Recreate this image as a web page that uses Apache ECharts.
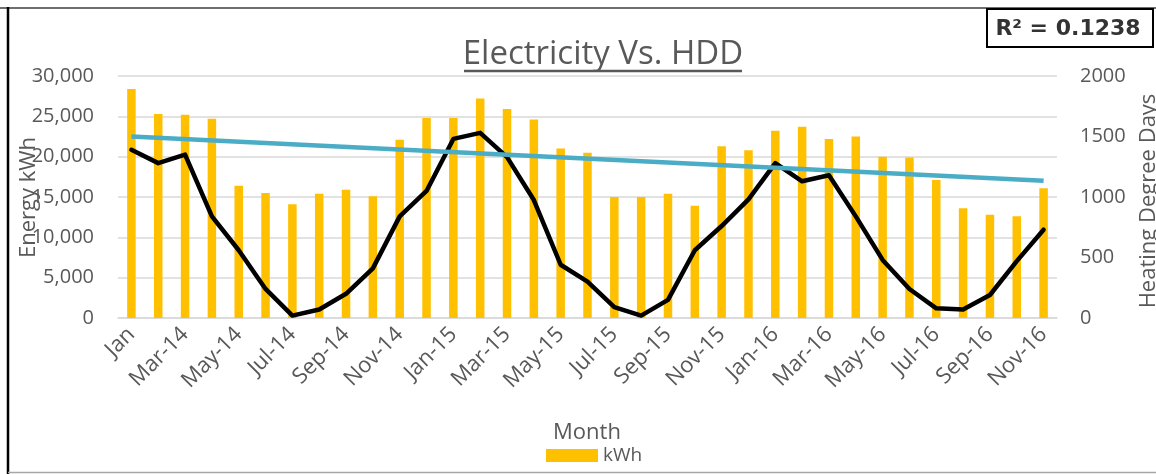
<!DOCTYPE html>
<html>
<head>
<meta charset="utf-8">
<script src="https://cdn.jsdelivr.net/npm/echarts@6/dist/echarts.min.js"></script>
<style>
html,body{margin:0;padding:0;background:#fff;}
#c{width:1156px;height:474px;}
</style>
</head>
<body>
<div id="c"></div>
<script>
var categories = ['Jan','Feb-14','Mar-14','Apr-14','May-14','Jun-14','Jul-14','Aug-14','Sep-14','Oct-14','Nov-14','Dec-14',
  'Jan-15','Feb-15','Mar-15','Apr-15','May-15','Jun-15','Jul-15','Aug-15','Sep-15','Oct-15','Nov-15','Dec-15',
  'Jan-16','Feb-16','Mar-16','Apr-16','May-16','Jun-16','Jul-16','Aug-16','Sep-16','Oct-16','Nov-16'];
var kwh = [28400,25300,25200,24700,16400,15500,14100,15400,15900,15100,22100,24800,
  24800,27200,25900,24600,21000,20500,15000,15000,15400,13900,21300,20800,
  23200,23700,22200,22500,20000,19900,17100,13600,12800,12600,16100];
var hdd = [1390,1280,1350,840,560,240,20,70,200,410,840,1050,
  1480,1530,1330,975,440,300,90,20,150,560,760,980,
  1280,1130,1180,840,480,240,80,70,190,470,730];
var trendEnds = [22500, 17000];
var leftTicks = [0, 30000, 5000];
var rightTicks = [0, 2000, 500];
var titleText = 'Electricity Vs. HDD';
var r2Text = 'R\u00B2 = 0.1238';

var FONT = 'Open Sans';
var GREY = '#595959';
var chart = echarts.init(document.getElementById('c'));
chart.setOption({
  animation: false,
  textStyle: {fontFamily: FONT},
  grid: {left: 118, right: 99, top: 76, bottom: 156, containLabel: false},
  legend: {
    data: ['kWh'], left: 546, top: 446, padding: 0,
    itemWidth: 52, itemHeight: 13, icon: 'rect',
    textStyle: {fontFamily: FONT, fontSize: 19, color: GREY}
  },
  xAxis: {
    type: 'category', data: categories, boundaryGap: true,
    axisLine: {lineStyle: {color: '#d9d9d9', width: 1.5}},
    axisTick: {show: false},
    axisLabel: {interval: 1, rotate: 45, fontSize: 22, color: GREY, margin: 13, fontFamily: FONT}
  },
  yAxis: [{
    type: 'value', min: leftTicks[0], max: leftTicks[1], interval: leftTicks[2],
    axisLine: {show: false}, axisTick: {show: false},
    splitLine: {lineStyle: {color: '#d9d9d9', width: 1.5}},
    axisLabel: {fontSize: 20, color: GREY, margin: 24, fontFamily: FONT,
      formatter: function (v) { return v.toLocaleString('en-US'); }}
  }, {
    type: 'value', min: rightTicks[0], max: rightTicks[1], interval: rightTicks[2],
    position: 'right',
    axisLine: {show: false}, axisTick: {show: false}, splitLine: {show: false},
    axisLabel: {fontSize: 20, color: GREY, margin: 23, fontFamily: FONT,
      formatter: function (v) { return String(v); }}
  }],
  series: [{
    name: 'kWh', type: 'bar', data: kwh, yAxisIndex: 0, barWidth: 8.5,
    itemStyle: {color: '#FFC000'}, z: 2
  }, {
    name: 'HDD', type: 'line', data: hdd, yAxisIndex: 1, symbol: 'none',
    lineStyle: {color: '#000', width: 4.5, join: 'round', cap: 'round'}, z: 3
  }, {
    name: 'Trend', type: 'line', data: [], yAxisIndex: 0, symbol: 'none', z: 4,
    markLine: {
      silent: true, symbol: ['none', 'none'], label: {show: false},
      lineStyle: {color: '#4BACC6', width: 4.5, type: 'solid'},
      data: [[{coord: [categories[0], trendEnds[0]]}, {coord: [categories[categories.length - 1], trendEnds[1]]}]]
    }
  }],
  graphic: [
    {type: 'line', shape: {x1: 0, y1: 8, x2: 1156, y2: 8}, style: {stroke: '#6e6e6e', lineWidth: 2}},
    {type: 'line', shape: {x1: 8, y1: 7, x2: 8, y2: 474}, style: {stroke: '#000', lineWidth: 2.5}},
    {type: 'line', shape: {x1: 8, y1: 472.5, x2: 1156, y2: 472.5}, style: {stroke: '#a6a6a6', lineWidth: 1.5}},
    {type: 'rect', shape: {x: 987, y: 9, width: 166, height: 38}, style: {fill: '#fff', stroke: '#000', lineWidth: 2}},
    {type: 'text', x: 1068, y: 29, style: {text: r2Text, fontFamily: 'DejaVu Sans', fontWeight: 'bold', fontSize: 22, fill: '#333', align: 'center', verticalAlign: 'middle'}},
    {type: 'text', x: 603, y: 55, style: {text: titleText, fontFamily: FONT, fontSize: 33, fill: GREY, align: 'center', verticalAlign: 'middle'}},
    {type: 'line', shape: {x1: 464, y1: 71, x2: 742, y2: 71}, style: {stroke: GREY, lineWidth: 2.3}},
    {type: 'text', x: 28.5, y: 197.5, rotation: Math.PI / 2, style: {text: 'Energy kWh', fontFamily: FONT, fontSize: 22, fill: GREY, align: 'center', verticalAlign: 'middle'}},
    {type: 'text', x: 1149, y: 201, rotation: Math.PI / 2, style: {text: 'Heating Degree Days', fontFamily: FONT, fontSize: 22, fill: GREY, align: 'center', verticalAlign: 'middle'}},
    {type: 'text', x: 587, y: 433, style: {text: 'Month', fontFamily: FONT, fontSize: 22, fill: GREY, align: 'center', verticalAlign: 'middle'}}
  ]
});
</script>
</body>
</html>
